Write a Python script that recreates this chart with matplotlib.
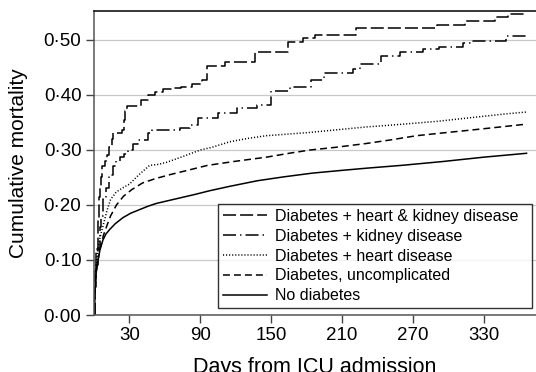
import matplotlib
matplotlib.use("Agg")
import matplotlib.pyplot as plt
from matplotlib.ticker import FuncFormatter

plt.rcParams['font.family'] = ['Liberation Sans', 'DejaVu Sans']
plt.rcParams['lines.scale_dashes'] = False

# ---- data (days from ICU admission, cumulative mortality) ----
hk_days = [0, 1, 2, 3, 4, 5, 6, 7, 9, 11, 13, 15, 16, 24, 25, 26, 28, 40, 46, 52, 58, 66, 74,
           83, 91, 96, 111, 136, 164, 177, 187, 222, 290, 314, 339, 350, 366]
hk_vals = [0.0, 0.08, 0.12, 0.17, 0.215, 0.23, 0.25, 0.27, 0.28, 0.29, 0.305, 0.32, 0.33, 0.336,
           0.355, 0.37, 0.38, 0.39, 0.40, 0.405, 0.41, 0.413, 0.415, 0.42, 0.427, 0.452, 0.46,
           0.479, 0.496, 0.503, 0.509, 0.521, 0.527, 0.535, 0.541, 0.547, 0.547]

k_days = [0, 1, 2, 3, 5, 6, 8, 10, 13, 16, 19, 22, 25, 29, 33, 37, 46, 49, 73, 81, 88, 105, 121,
          138, 150, 166, 184, 195, 219, 225, 243, 259, 278, 292, 312, 320, 349, 366]
k_vals = [0.0, 0.05, 0.09, 0.12, 0.16, 0.18, 0.21, 0.23, 0.255, 0.27, 0.28, 0.287, 0.293, 0.30,
          0.31, 0.318, 0.33, 0.336, 0.34, 0.345, 0.358, 0.367, 0.376, 0.382, 0.407, 0.414,
          0.428, 0.44, 0.447, 0.457, 0.47, 0.479, 0.483, 0.487, 0.495, 0.499, 0.507, 0.507]

h_days = [0, 1, 2, 3, 5, 8, 11, 14, 19, 25, 30, 38, 47, 55, 62, 75, 90, 100, 115, 130, 146, 165,
          183, 202, 231, 250, 273, 290, 307, 320, 337, 350, 366]
h_vals = [0.0, 0.06, 0.09, 0.118, 0.14, 0.165, 0.19, 0.21, 0.224, 0.232, 0.238, 0.255, 0.272,
          0.274, 0.278, 0.288, 0.30, 0.305, 0.315, 0.321, 0.326, 0.329, 0.332, 0.336, 0.342,
          0.345, 0.349, 0.352, 0.356, 0.359, 0.363, 0.366, 0.369]

u_days = [0, 1, 2, 3, 5, 8, 11, 14, 19, 25, 32, 41, 52, 64, 81, 96, 118, 146, 165, 183, 205,
          231, 250, 273, 295, 318, 340, 366]
u_vals = [0.0, 0.05, 0.08, 0.095, 0.12, 0.145, 0.163, 0.18, 0.2, 0.216, 0.228, 0.24, 0.248,
          0.255, 0.264, 0.272, 0.279, 0.287, 0.294, 0.30, 0.305, 0.312, 0.318, 0.326, 0.331,
          0.336, 0.341, 0.347]

n_days = [0, 1, 2, 3.5, 5, 7.5, 10, 13.5, 18, 24.5, 31, 39, 46, 53, 63, 73, 85, 98, 115, 138,
          160, 185, 210, 231, 260, 295, 330, 366]
n_vals = [0.0, 0.05, 0.08, 0.10, 0.118, 0.136, 0.147, 0.156, 0.166, 0.177, 0.185, 0.192, 0.198,
          0.203, 0.208, 0.213, 0.219, 0.226, 0.234, 0.244, 0.251, 0.258, 0.263, 0.267, 0.272,
          0.279, 0.287, 0.294]

labels = ["Diabetes + heart & kidney disease", "Diabetes + kidney disease",
          "Diabetes + heart disease", "Diabetes, uncomplicated", "No diabetes"]
xticks = [30, 90, 150, 210, 270, 330]
yticks = [0.0, 0.1, 0.2, 0.3, 0.4, 0.5]

fig = plt.figure(figsize=(5.36, 3.72), dpi=100)
ax = fig.add_axes([94 / 536, 1 - 315 / 372, 1 - 94 / 536, (315 - 11) / 372])

lw = 1.1
ax.plot(hk_days, hk_vals, color='black', lw=lw, drawstyle='steps-post',
        dashes=(9.4, 2.9), label=labels[0])
ax.plot(k_days, k_vals, color='black', lw=lw, drawstyle='steps-post',
        dashes=(9.4, 2.9, 1, 2.9), label=labels[1])
ax.plot(h_days, h_vals, color='black', lw=lw, dashes=(0.8, 1.4), label=labels[2])
ax.plot(u_days, u_vals, color='black', lw=lw, dashes=(5, 2.9), label=labels[3])
ax.plot(n_days, n_vals, color='black', lw=lw, label=labels[4])

ax.set_xlim(0, 374)
ax.set_ylim(0, 0.5527)
ax.set_xticks(xticks)
ax.set_yticks(yticks)
ax.yaxis.set_major_formatter(FuncFormatter(lambda v, p: f"{v:.2f}".replace('.', '\u00b7')))
ax.grid(axis='y', color='#c8c8c8', lw=0.9)
ax.set_axisbelow(True)
ax.tick_params(axis='both', labelsize=13.5, direction='out', length=6, width=1,
               color='#444444', pad=3)
for s in ['left', 'bottom', 'top']:
    ax.spines[s].set_linewidth(1.1)
ax.spines['left'].set_color('#555555')
ax.spines['bottom'].set_color('#555555')
ax.spines['top'].set_color('black')
ax.spines['right'].set_visible(False)

ax.set_ylabel("Cumulative mortality", fontsize=15, labelpad=11)
ax.set_xlabel("Days from ICU admission", fontsize=15.5, labelpad=9)

leg = ax.legend(loc='lower left', bbox_to_anchor=((218 - 94) / 442, 0.023, 314 / 442, 0.3),
                mode='expand', borderaxespad=0,
                fontsize=11.5, frameon=True, fancybox=False, handlelength=2.75,
                handletextpad=0.5, labelspacing=0.3, borderpad=0.3)
leg.get_frame().set_edgecolor('black')
leg.get_frame().set_linewidth(1.0)

fig.savefig("out.png", dpi=100)
